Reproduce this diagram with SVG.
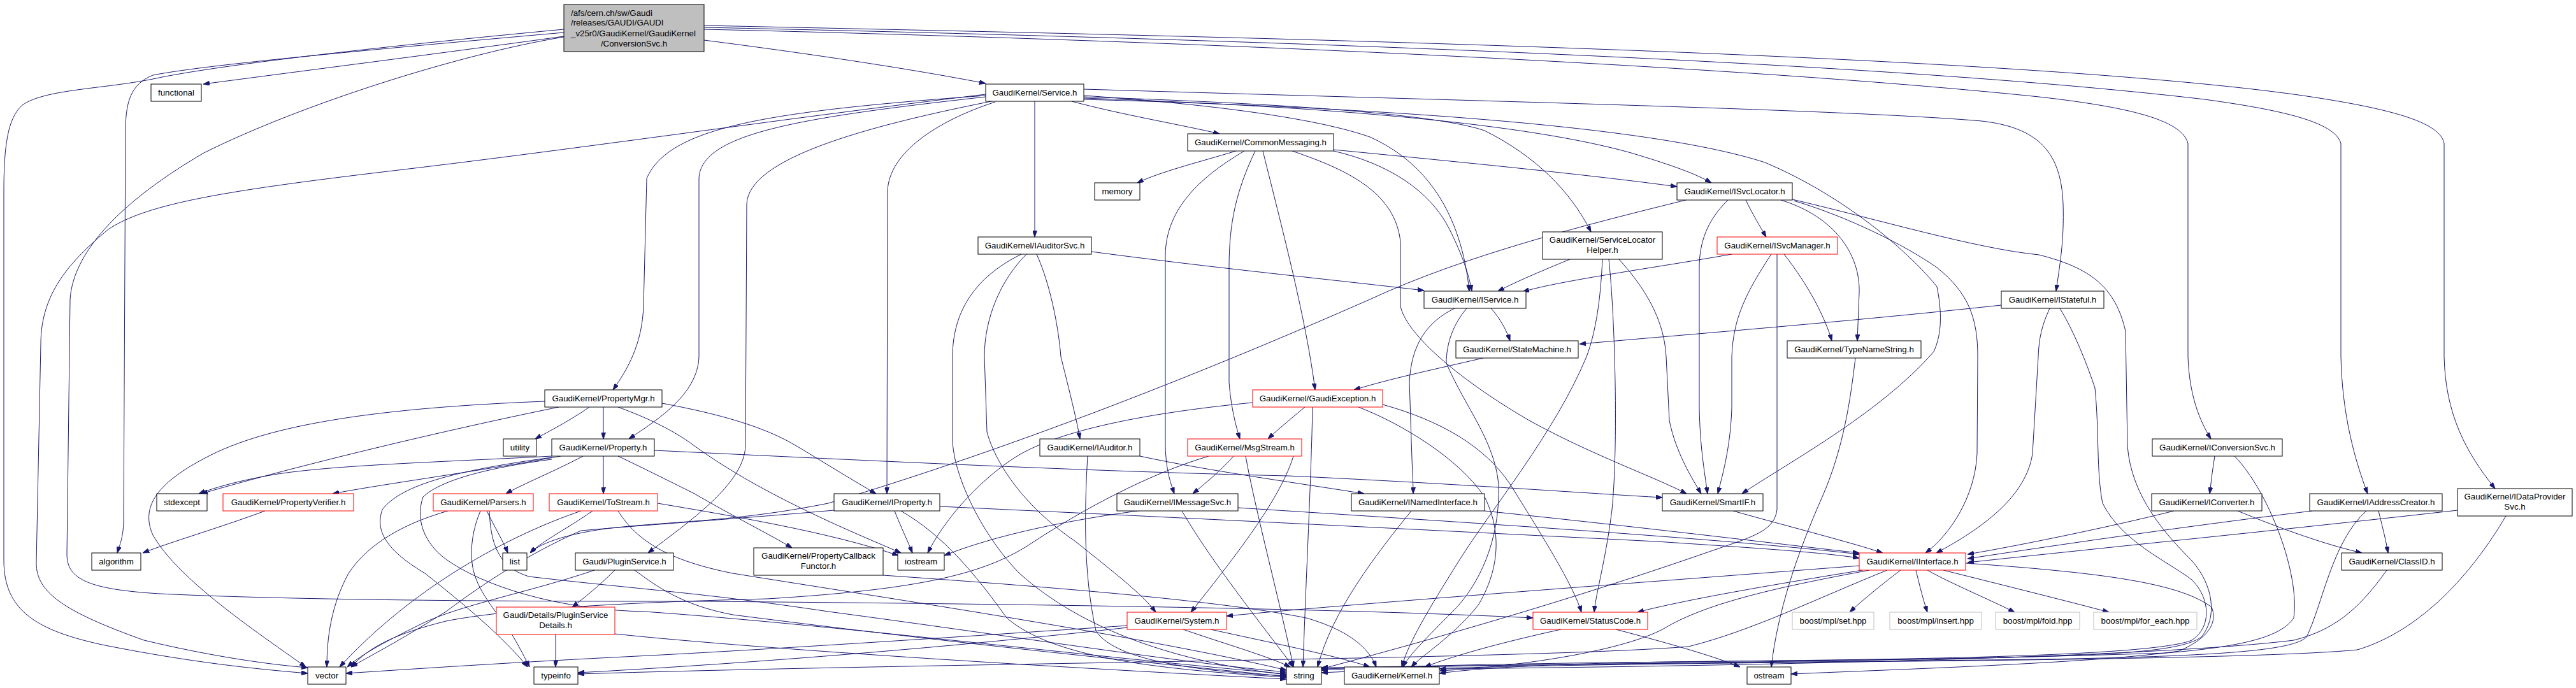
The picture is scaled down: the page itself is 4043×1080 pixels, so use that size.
<svg xmlns="http://www.w3.org/2000/svg" width="4043" height="1080" viewBox="0 0 4043 1080">
<defs>
<marker id="a" viewBox="0 0 10 7" refX="10" refY="3.5" markerWidth="10" markerHeight="7" markerUnits="userSpaceOnUse" orient="auto">
<path d="M0,0 L10,3.5 L0,7 z" fill="#191970" stroke="#191970"/>
</marker>
<style>
.n rect{fill:#fff;stroke:#000;stroke-width:1}
.n.r rect{stroke:#f00}
.n.g rect{stroke:#bfbfbf}
.n.root rect{fill:#bfbfbf}
text{font-family:"Liberation Sans",Arial,Helvetica,sans-serif;font-size:13.3px;fill:#000;text-anchor:middle}
.l{text-anchor:start}
.e path{fill:none;stroke:#191970;stroke-width:1;marker-end:url(#a)}
</style>
</defs>
<rect width="4043" height="1080" fill="#fff"/>
<g id="edges" class="e">
<path d="M885,57 C720,80 470,112 319,132"/>
<path d="M1105,63 C1300,88 1450,112 1547,131"/>
<path d="M885,46 C650,68 350,100 240,124 C160,140 70,140 35,165 C12,185 6,230 6,300 L6,880 C6,960 60,990 160,1012 C300,1040 400,1050 483,1057"/>
<path d="M885,51 C650,72 330,100 240,118 C205,132 198,160 197,200 L194,820 C193,845 188,855 184,868"/>
<path d="M885,58 C720,85 470,165 320,240 C200,310 115,390 110,470 L105,870 C105,910 140,925 250,932 C500,944 900,944 1100,944 C1600,948 2100,955 2406,970"/>
<path d="M1105,46 C1800,62 2700,100 3200,152 C3360,170 3425,192 3434,225 L3434,560 C3436,620 3452,660 3470,689"/>
<path d="M1105,43 C1800,58 2900,90 3460,156 C3600,175 3665,195 3674,225 L3674,560 C3676,650 3695,720 3716,775"/>
<path d="M1105,40 C1800,55 3100,80 3600,148 C3770,172 3830,195 3836,225 L3836,560 C3838,650 3870,710 3916,767"/>
<path d="M1682,159 C1760,180 1850,195 1914,210"/>
<path d="M1624,159 L1624,372"/>
<path d="M1547,148 C1200,190 900,235 600,270 C350,300 230,320 170,360 C110,410 64,460 64,540 L57,884 C57,930 100,960 226,1005 C330,1030 420,1043 483,1048"/>
<path d="M1547,150 C1200,175 1050,200 1015,280 L1010,480 C1008,540 985,580 962,612"/>
<path d="M1547,152 C1250,185 1100,210 1097,280 L1097,560 C1095,620 1030,660 987,689"/>
<path d="M1556,159 C1350,200 1175,250 1172,320 L1170,700 C1168,760 1080,820 1017,868"/>
<path d="M1562,160 C1470,190 1395,240 1393,300 L1392,775"/>
<path d="M1701,150 C1850,160 2050,180 2150,215 C2250,260 2295,350 2306,457"/>
<path d="M1701,152 C2000,162 2250,178 2330,205 C2410,245 2465,300 2497,364"/>
<path d="M1701,154 C2100,168 2400,195 2560,240 C2620,258 2660,272 2686,287"/>
<path d="M1701,156 C2200,170 2600,200 2770,255 C2900,310 3000,400 3040,450 C3050,500 3045,530 3035,552 C2950,650 2800,730 2734,775"/>
<path d="M1701,140 C2300,158 2900,172 3110,190 C3200,200 3235,240 3238,320 C3240,380 3232,420 3227,457"/>
<path d="M1940,237 C1880,255 1820,270 1785,287"/>
<path d="M1953,237 C1880,280 1830,330 1829,400 L1829,700 C1830,740 1838,760 1843,775"/>
<path d="M1970,237 C1940,300 1929,350 1929,420 L1929,600 C1932,640 1940,670 1946,689"/>
<path d="M1982,237 C2010,350 2050,500 2064,612"/>
<path d="M2028,237 C2110,265 2190,300 2198,380 L2198,480 C2205,520 2280,590 2400,660 C2500,715 2600,750 2647,775"/>
<path d="M2093,237 C2180,257 2245,300 2275,360 C2295,400 2305,430 2310,457"/>
<path d="M2093,235 C2300,255 2500,275 2632,293"/>
<path d="M2740,314 C2750,335 2762,355 2772,372"/>
<path d="M2795,314 C2880,340 2920,400 2918,460 L2915,535"/>
<path d="M2712,314 C2680,345 2667,380 2667,420 L2667,640 C2668,700 2675,740 2680,775"/>
<path d="M2815,315 C2900,340 2990,385 3040,420 C3090,460 3104,500 3104,560 L3103,712 C3100,780 3060,840 3022,868"/>
<path d="M2813,313 C2950,345 3100,390 3200,400 C3280,420 3320,450 3336,520 L3339,700 C3345,780 3400,840 3440,880 C3475,920 3480,970 3455,1000 C3420,1025 3300,1030 3000,1035 C2600,1040 2300,1040 2074,1052"/>
<path d="M2646,314 C2500,350 2300,400 2150,470 C1900,580 1600,700 1300,790 C1150,820 1050,818 950,830 C880,840 845,855 832,868"/>
<path d="M2718,399 C2600,420 2450,440 2390,458"/>
<path d="M2800,399 C2840,450 2865,500 2875,535"/>
<path d="M2780,399 C2740,460 2720,500 2718,560 L2718,640 C2716,700 2705,740 2696,775"/>
<path d="M2789,399 L2789,800 C2785,830 2760,840 2700,860 C2500,930 2300,990 2074,1050"/>
<path d="M2464,407 C2420,425 2380,442 2351,457"/>
<path d="M2525,407 C2535,500 2540,700 2530,800 C2520,880 2505,930 2502,961"/>
<path d="M2541,407 C2580,450 2612,500 2615,560 L2620,660 C2630,710 2655,750 2670,775"/>
<path d="M2515,407 C2512,470 2505,520 2490,560 C2440,680 2340,800 2290,880 C2240,960 2210,1010 2200,1047"/>
<path d="M2340,484 C2355,500 2365,520 2370,535"/>
<path d="M2283,484 C2240,505 2215,540 2212,600 L2216,720 C2217,745 2218,760 2218,775"/>
<path d="M2302,484 C2280,510 2270,540 2270,570 C2300,640 2345,690 2352,760 C2355,850 2320,920 2280,960 C2240,1000 2210,1030 2202,1047"/>
<path d="M3141,479 C2900,505 2650,525 2479,540"/>
<path d="M3217,484 C3205,510 3200,530 3199,560 L3190,712 C3180,780 3110,830 3039,868"/>
<path d="M3233,484 C3255,520 3275,570 3288,609 C3295,680 3290,740 3300,790 C3330,850 3400,880 3440,910 C3470,940 3471,985 3440,1005 C3380,1030 3000,1035 2700,1038 C2500,1040 2350,1045 2259,1057"/>
<path d="M2328,562 C2250,580 2180,595 2125,612"/>
<path d="M2912,562 C2905,620 2895,700 2860,780 C2820,870 2790,960 2780,1047"/>
<path d="M925,639 C895,660 860,678 840,689"/>
<path d="M947,639 L947,689"/>
<path d="M855,630 C600,640 420,665 320,720 C240,762 222,800 240,840 C280,910 400,990 480,1047"/>
<path d="M877,639 C700,675 470,730 316,775"/>
<path d="M1039,633 C1130,650 1200,670 1250,700 C1300,730 1340,755 1375,775"/>
<path d="M970,639 C1000,650 1050,670 1090,700 C1200,780 1350,840 1414,868"/>
<path d="M866,716 C700,725 520,730 430,745 C370,755 330,768 312,775"/>
<path d="M880,716 C750,740 600,760 522,775"/>
<path d="M915,716 C870,740 820,760 794,775"/>
<path d="M947,716 L947,775"/>
<path d="M970,716 C1010,735 1060,760 1090,775 C1150,810 1210,840 1243,860"/>
<path d="M866,718 C720,738 630,760 600,800 C590,830 600,860 667,900 C730,950 790,1000 828,1047"/>
<path d="M866,721 C760,735 690,755 664,780 C650,820 670,860 709,884 C780,930 900,958 1011,960 C1300,980 1700,1030 2019,1058"/>
<path d="M1027,707 C1300,720 1700,740 2022,747 C2300,760 2500,775 2609,781"/>
<path d="M703,802 C640,820 580,850 547,900 C520,950 513,1000 513,1047"/>
<path d="M764,802 C775,825 790,850 797,868"/>
<path d="M754,802 C742,830 738,860 741,884 C745,920 770,950 800,990 C815,1015 825,1035 831,1047"/>
<path d="M768,802 C770,850 780,890 830,905 C1000,925 1100,930 1300,960 C1600,1000 1850,1040 2019,1055"/>
<path d="M930,802 C890,830 850,850 832,868"/>
<path d="M912,802 C800,840 650,920 533,1047"/>
<path d="M1032,790 C1150,810 1300,835 1410,872"/>
<path d="M970,802 C1000,850 1050,880 1150,900 C1400,940 1800,1000 2019,1052"/>
<path d="M965,895 C940,920 915,940 898,953"/>
<path d="M933,895 C830,930 720,950 660,980 C610,1005 570,1025 545,1047"/>
<path d="M996,895 C1030,920 1070,950 1150,965 C1500,1010 1800,1040 2019,1062"/>
<path d="M872,996 L872,1047"/>
<path d="M965,995 C1200,1020 1700,1050 2019,1066"/>
<path d="M1386,903 C1600,918 1900,940 2050,970 C2120,990 2150,1020 2160,1047"/>
<path d="M1713,395 C1900,420 2100,440 2235,456"/>
<path d="M1627,399 C1650,450 1662,520 1665,560 C1680,620 1690,660 1695,689"/>
<path d="M1611,399 C1570,440 1545,500 1545,560 L1549,678 C1560,720 1600,790 1688,850 C1750,900 1790,930 1814,961"/>
<path d="M1603,399 C1540,430 1495,480 1495,560 L1495,695 C1500,760 1550,850 1600,900 C1700,990 1850,1040 2019,1059"/>
<path d="M1789,716 C1900,740 2050,760 2141,775"/>
<path d="M1707,716 C1702,800 1700,900 1720,990 C1750,1040 1900,1055 2019,1061"/>
<path d="M1936,716 C1915,740 1890,760 1872,775"/>
<path d="M2030,716 C2010,780 1950,860 1869,961"/>
<path d="M1897,716 C1800,745 1700,800 1623,850 C1550,900 1450,925 1204,940 C1000,945 800,955 700,975 C620,995 580,1015 551,1047"/>
<path d="M1955,716 C1970,800 2010,950 2030,1047"/>
<path d="M2048,639 C2035,650 2010,670 1990,689"/>
<path d="M1966,632 C1780,650 1650,680 1590,720 C1530,760 1480,820 1456,868"/>
<path d="M2060,639 C2058,750 2050,900 2045,1047"/>
<path d="M2170,635 C2260,660 2330,700 2370,760 C2420,840 2470,920 2482,961"/>
<path d="M2132,639 C2200,665 2290,720 2330,780 C2360,840 2350,900 2320,950 C2280,1000 2230,1030 2215,1047"/>
<path d="M1404,802 C1415,830 1425,850 1432,868"/>
<path d="M1475,795 C1800,810 2200,830 2600,850 C2750,860 2850,866 2918,876"/>
<path d="M1309,801 C1150,815 1000,825 912,833 C850,860 780,900 700,960 C620,1010 580,1030 551,1047"/>
<path d="M1414,802 C1480,840 1530,900 1580,970 C1650,1030 1800,1050 2019,1063"/>
<path d="M1793,801 C1650,820 1550,845 1482,872"/>
<path d="M1943,797 C2300,820 2700,845 2918,870"/>
<path d="M1855,802 C1900,880 1980,980 2030,1047"/>
<path d="M2330,802 C2600,830 2800,855 2918,868"/>
<path d="M2215,802 C2160,870 2090,960 2068,1047"/>
<path d="M2720,802 C2820,830 2900,850 2955,868"/>
<path d="M2983,895 C2950,920 2920,945 2903,961"/>
<path d="M3007,895 C3013,920 3018,940 3025,961"/>
<path d="M3025,895 C3060,915 3120,940 3162,961"/>
<path d="M3050,895 C3150,920 3250,945 3310,961"/>
<path d="M2923,895 C2800,915 2650,940 2570,961"/>
<path d="M2919,888 C2500,920 2100,950 1925,967"/>
<path d="M2934,895 C2800,920 2680,945 2611,987 C2550,1020 2400,1045 2260,1053"/>
<path d="M2962,895 C2850,940 2750,990 2650,1015 C2400,1035 1500,1040 907,1058"/>
<path d="M3085,884 C3300,899 3420,915 3471,953 C3480,975 3470,1000 3420,1022 C3300,1040 3000,1050 2811,1058"/>
<path d="M3412,802 C3300,830 3150,860 3088,870"/>
<path d="M3512,802 C3580,830 3650,855 3707,868"/>
<path d="M3629,802 C3400,830 3200,860 3088,877"/>
<path d="M3733,802 C3740,830 3745,850 3748,868"/>
<path d="M3714,802 C3660,850 3645,950 3620,1000 C3600,1020 3500,1030 3200,1035 C2800,1040 2400,1042 2074,1050"/>
<path d="M3857,801 C3600,830 3300,860 3088,883"/>
<path d="M3933,810 C3880,900 3800,990 3700,1020 C3600,1030 3300,1035 3000,1038 C2600,1042 2300,1045 2074,1056"/>
<path d="M3476,716 C3472,740 3470,760 3468,775"/>
<path d="M3507,716 C3560,770 3610,900 3600,970 C3580,1000 3520,1015 3400,1025 C3000,1038 2500,1042 2074,1048"/>
<path d="M3746,895 C3700,960 3660,990 3600,1005 C3400,1030 2800,1045 2259,1050"/>
<path d="M2450,988 C2350,1010 2280,1030 2236,1047"/>
<path d="M2536,988 C2620,1010 2690,1030 2731,1047"/>
<path d="M1770,982 C1500,1000 1200,1020 1000,1030 C800,1040 650,1050 543,1057"/>
<path d="M1770,985 C1500,1015 1200,1040 907,1056"/>
<path d="M1857,988 C1920,1010 1990,1030 2025,1047"/>
<path d="M1900,988 C2000,1010 2100,1030 2150,1047"/>
<path d="M416,802 C340,830 270,850 224,868"/>
</g>
<g id="n_root" class="n root"><rect x="885" y="7" width="220" height="74"/>
<text class="l" x="896" y="24.5">/afs/cern.ch/sw/Gaudi</text>
<text class="l" x="896" y="40">/releases/GAUDI/GAUDI</text>
<text class="l" x="896" y="56.5">_v25r0/GaudiKernel/GaudiKernel</text>
<text x="995" y="72.5">/ConversionSvc.h</text></g>
<g id="n_functional" class="n"><rect x="237" y="132" width="79" height="27"/><text x="276.5" y="150">functional</text></g>
<g id="n_service" class="n"><rect x="1547" y="132" width="154" height="27"/><text x="1624" y="150">GaudiKernel/Service.h</text></g>
<g id="n_commonmessaging" class="n"><rect x="1864" y="210" width="229" height="27"/><text x="1978.5" y="228">GaudiKernel/CommonMessaging.h</text></g>
<g id="n_memory" class="n"><rect x="1718" y="287" width="71" height="27"/><text x="1753.5" y="305">memory</text></g>
<g id="n_isvclocator" class="n"><rect x="2632" y="287" width="181" height="27"/><text x="2722.5" y="305">GaudiKernel/ISvcLocator.h</text></g>
<g id="n_iauditorsvc" class="n"><rect x="1535" y="372" width="178" height="27"/><text x="1624" y="390">GaudiKernel/IAuditorSvc.h</text></g>
<g id="n_servicelocatorhelper" class="n"><rect x="2421" y="364" width="188" height="43"/><text x="2515" y="381">GaudiKernel/ServiceLocator</text><text x="2515" y="397">Helper.h</text></g>
<g id="n_isvcmanager" class="n r"><rect x="2695" y="372" width="189" height="27"/><text x="2789.5" y="390">GaudiKernel/ISvcManager.h</text></g>
<g id="n_iservice" class="n"><rect x="2235" y="457" width="160" height="27"/><text x="2315" y="475">GaudiKernel/IService.h</text></g>
<g id="n_istateful" class="n"><rect x="3141" y="457" width="161" height="27"/><text x="3221.5" y="475">GaudiKernel/IStateful.h</text></g>
<g id="n_statemachine" class="n"><rect x="2285" y="535" width="192" height="27"/><text x="2381" y="553">GaudiKernel/StateMachine.h</text></g>
<g id="n_typenamestring" class="n"><rect x="2805" y="535" width="210" height="27"/><text x="2910" y="553">GaudiKernel/TypeNameString.h</text></g>
<g id="n_propertymgr" class="n"><rect x="855" y="612" width="184" height="27"/><text x="947" y="630">GaudiKernel/PropertyMgr.h</text></g>
<g id="n_gaudiexception" class="n r"><rect x="1966" y="612" width="204" height="27"/><text x="2068" y="630">GaudiKernel/GaudiException.h</text></g>
<g id="n_utility" class="n"><rect x="790" y="689" width="52" height="27"/><text x="816" y="707">utility</text></g>
<g id="n_property" class="n"><rect x="866" y="689" width="161" height="27"/><text x="946.5" y="707">GaudiKernel/Property.h</text></g>
<g id="n_iauditor" class="n"><rect x="1632" y="689" width="157" height="27"/><text x="1710.5" y="707">GaudiKernel/IAuditor.h</text></g>
<g id="n_msgstream" class="n r"><rect x="1864" y="689" width="179" height="27"/><text x="1953.5" y="707">GaudiKernel/MsgStream.h</text></g>
<g id="n_iconversionsvc" class="n"><rect x="3378" y="689" width="204" height="27"/><text x="3480" y="707">GaudiKernel/IConversionSvc.h</text></g>
<g id="n_stdexcept" class="n"><rect x="246" y="775" width="79" height="27"/><text x="285.5" y="793">stdexcept</text></g>
<g id="n_propertyverifier" class="n r"><rect x="350" y="775" width="205" height="27"/><text x="452.5" y="793">GaudiKernel/PropertyVerifier.h</text></g>
<g id="n_parsers" class="n r"><rect x="680" y="775" width="157" height="27"/><text x="758.5" y="793">GaudiKernel/Parsers.h</text></g>
<g id="n_tostream" class="n r"><rect x="862" y="775" width="170" height="27"/><text x="947" y="793">GaudiKernel/ToStream.h</text></g>
<g id="n_iproperty" class="n"><rect x="1309" y="775" width="166" height="27"/><text x="1392" y="793">GaudiKernel/IProperty.h</text></g>
<g id="n_imessagesvc" class="n"><rect x="1753" y="775" width="190" height="27"/><text x="1848" y="793">GaudiKernel/IMessageSvc.h</text></g>
<g id="n_inamedinterface" class="n"><rect x="2121" y="775" width="209" height="27"/><text x="2225.5" y="793">GaudiKernel/INamedInterface.h</text></g>
<g id="n_smartif" class="n"><rect x="2609" y="775" width="158" height="27"/><text x="2688" y="793">GaudiKernel/SmartIF.h</text></g>
<g id="n_iconverter" class="n"><rect x="3377" y="775" width="173" height="27"/><text x="3463.5" y="793">GaudiKernel/IConverter.h</text></g>
<g id="n_iaddresscreator" class="n"><rect x="3625" y="775" width="208" height="27"/><text x="3729" y="793">GaudiKernel/IAddressCreator.h</text></g>
<g id="n_idataprovidersvc" class="n"><rect x="3857" y="767" width="180" height="43"/><text x="3947" y="784">GaudiKernel/IDataProvider</text><text x="3947" y="800">Svc.h</text></g>
<g id="n_algorithm" class="n"><rect x="144" y="868" width="77" height="27"/><text x="182.5" y="886">algorithm</text></g>
<g id="n_list" class="n"><rect x="789" y="868" width="38" height="27"/><text x="808" y="886">list</text></g>
<g id="n_pluginservice" class="n"><rect x="903" y="868" width="154" height="27"/><text x="980" y="886">Gaudi/PluginService.h</text></g>
<g id="n_propertycallbackfunctor" class="n"><rect x="1183" y="860" width="203" height="43"/><text x="1284.5" y="877">GaudiKernel/PropertyCallback</text><text x="1284.5" y="893">Functor.h</text></g>
<g id="n_iostream" class="n"><rect x="1409" y="868" width="73" height="27"/><text x="1445.5" y="886">iostream</text></g>
<g id="n_iinterface" class="n r"><rect x="2918" y="868" width="167" height="27"/><text x="3001.5" y="886">GaudiKernel/IInterface.h</text></g>
<g id="n_classid" class="n"><rect x="3675" y="868" width="158" height="27"/><text x="3754" y="886">GaudiKernel/ClassID.h</text></g>
<g id="n_pluginservicedetails" class="n r"><rect x="779" y="953" width="186" height="43"/><text x="872" y="970">Gaudi/Details/PluginService</text><text x="872" y="986">Details.h</text></g>
<g id="n_system" class="n r"><rect x="1769" y="961" width="156" height="27"/><text x="1847" y="979">GaudiKernel/System.h</text></g>
<g id="n_statuscode" class="n r"><rect x="2406" y="961" width="180" height="27"/><text x="2496" y="979">GaudiKernel/StatusCode.h</text></g>
<g id="n_boost_set" class="n g"><rect x="2813" y="961" width="128" height="27"/><text x="2877" y="979">boost/mpl/set.hpp</text></g>
<g id="n_boost_insert" class="n g"><rect x="2966" y="961" width="144" height="27"/><text x="3038" y="979">boost/mpl/insert.hpp</text></g>
<g id="n_boost_fold" class="n g"><rect x="3132" y="961" width="132" height="27"/><text x="3198" y="979">boost/mpl/fold.hpp</text></g>
<g id="n_boost_for_each" class="n g"><rect x="3286" y="961" width="162" height="27"/><text x="3367" y="979">boost/mpl/for_each.hpp</text></g>
<g id="n_vector" class="n"><rect x="483" y="1047" width="60" height="27"/><text x="513" y="1065">vector</text></g>
<g id="n_typeinfo" class="n"><rect x="838" y="1047" width="69" height="27"/><text x="872.5" y="1065">typeinfo</text></g>
<g id="n_string" class="n"><rect x="2019" y="1047" width="55" height="27"/><text x="2046.5" y="1065">string</text></g>
<g id="n_kernel" class="n"><rect x="2110" y="1047" width="149" height="27"/><text x="2184.5" y="1065">GaudiKernel/Kernel.h</text></g>
<g id="n_ostream" class="n"><rect x="2742" y="1047" width="69" height="27"/><text x="2776.5" y="1065">ostream</text></g>
</svg>
